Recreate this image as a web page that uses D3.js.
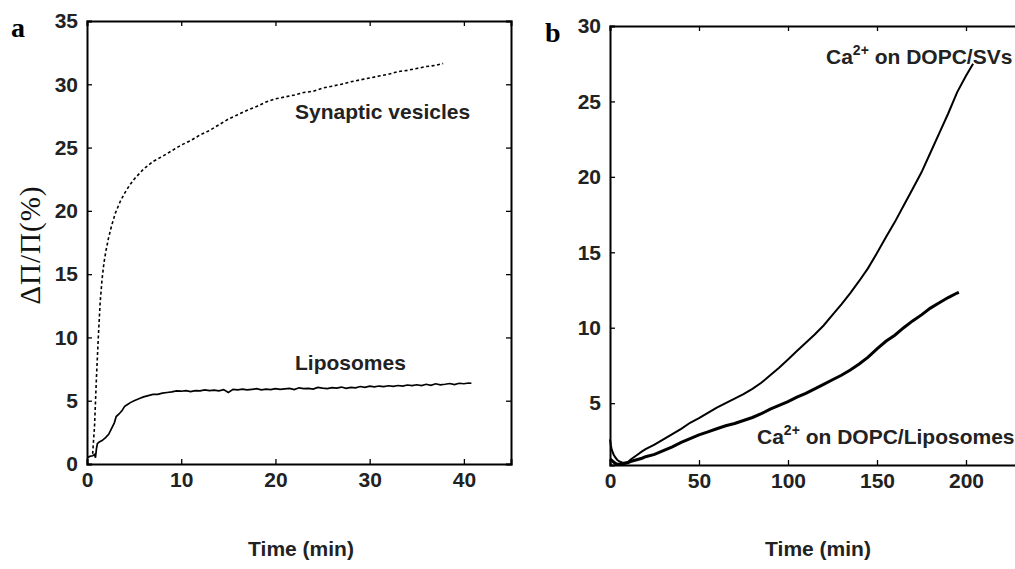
<!DOCTYPE html>
<html>
<head>
<meta charset="utf-8">
<script src="https://cdn.jsdelivr.net/npm/d3@7"></script>
<style>
  html, body { margin: 0; padding: 0; background: #fff; }
  svg { display: block; }
  .lbl { font-family: "Liberation Sans", Arial, sans-serif; font-weight: bold; font-size: 21px; fill: #222; }
  .panel { font-family: "Liberation Serif", "Times New Roman", serif; font-weight: bold; font-size: 28px; fill: #000; }
</style>
</head>
<body>
<script>
// ---- Panel a: surface pressure change vs time ----
const aTicksX = [0, 10, 20, 30, 40];
const aTicksY = [0, 5, 10, 15, 20, 25, 30, 35];

// Synaptic vesicles (dashed trace)
const svTime = [0.6, 0.8, 1.0, 1.2, 1.4, 1.6, 1.8, 2.0, 2.3, 2.6, 3.0, 3.5, 4.0, 4.5, 5.0, 5.5, 6.0, 6.5, 7, 8, 9, 10, 11, 12, 13, 14, 15, 16, 17, 18, 19, 20, 21, 22, 23, 24, 25, 26, 27, 28, 29, 30, 31, 32, 33, 34, 35, 36, 37, 37.8];
const svValue = [0.8, 3.0, 6.8, 10.0, 12.8, 14.6, 15.9, 16.8, 17.9, 18.8, 19.8, 20.7, 21.4, 22.0, 22.5, 22.9, 23.3, 23.6, 23.9, 24.3, 24.75, 25.2, 25.55, 26.0, 26.35, 26.8, 27.25, 27.6, 27.95, 28.25, 28.6, 28.85, 29.0, 29.15, 29.35, 29.45, 29.7, 29.85, 30.0, 30.2, 30.35, 30.5, 30.65, 30.8, 31.0, 31.1, 31.25, 31.4, 31.5, 31.65];

// Liposomes (solid trace)
const lipTime = [0, 0.3, 0.6, 0.8, 0.9, 1.0, 1.1, 1.3, 1.6, 2.0, 2.3, 2.6, 2.9, 3.1, 3.4, 3.7, 4.0, 4.3, 4.6, 5.0, 5.5, 6.0, 6.5, 7.0, 7.5, 8.0, 8.5, 9.0, 9.5,
  10, 10.5, 11, 11.5, 12, 12.5, 13, 13.5, 14, 14.5, 15, 15.5, 16, 16.5, 17, 17.5, 18, 18.5, 19, 19.5, 20, 20.5, 21, 21.5, 22, 22.5, 23, 23.5, 24, 24.5, 25,
  25.5, 26, 26.5, 27, 27.5, 28, 28.5, 29, 29.5, 30, 30.5, 31, 31.5, 32, 32.5, 33, 33.5, 34, 34.5, 35, 35.5, 36, 36.5, 37, 37.5, 38, 38.5, 39, 39.5, 40, 40.5, 40.8];
const lipValue = [0.5, 0.6, 0.65, 0.75, 0.5, 1.2, 1.6, 1.75, 1.85, 2.1, 2.35, 2.8, 3.25, 3.75, 3.95, 4.2, 4.55, 4.7, 4.85, 5.0, 5.15, 5.3, 5.4, 5.5, 5.5, 5.6, 5.65, 5.7, 5.78,
  5.75, 5.8, 5.72, 5.8, 5.78, 5.85, 5.8, 5.84, 5.78, 5.88, 5.65, 5.9, 5.86, 5.92, 5.85, 5.9, 5.95, 5.86, 5.92, 5.88, 5.96, 5.9, 5.94, 5.98, 5.88, 6.02, 5.95, 5.98, 5.92, 6.05, 6.0,
  5.96, 6.04, 6.0, 6.08, 5.98, 6.06, 6.02, 6.12, 6.05, 6.15, 6.1, 6.16, 6.12, 6.18, 6.14, 6.2, 6.16, 6.24, 6.2, 6.26, 6.2, 6.3, 6.22, 6.34, 6.26, 6.3, 6.36, 6.28, 6.38, 6.34, 6.4, 6.38];

// ---- Panel b: Ca2+ injection on DOPC monolayers ----
const bTicksX = [0, 50, 100, 150, 200];
const bTicksY = [5, 10, 15, 20, 25, 30];

const dsTime = [0, 0.5, 1, 2, 3, 4, 5, 6, 7, 8, 10, 12, 15, 18, 20, 25, 30, 35, 40, 45, 50, 55, 60, 65, 70, 75, 80, 85, 90, 95, 100, 105, 110, 115, 120, 125, 130, 135, 140, 145, 150, 155, 160, 165, 170, 175, 180, 185, 190, 195, 200, 204];
const dsValue = [2.6, 2.2, 1.9, 1.6, 1.4, 1.25, 1.15, 1.1, 1.05, 1.05, 1.1, 1.3, 1.55, 1.8, 1.95, 2.25, 2.6, 2.95, 3.3, 3.7, 4.0, 4.35, 4.7, 5.0, 5.3, 5.6, 5.95, 6.35, 6.85, 7.35, 7.9, 8.45, 9.0, 9.55, 10.15, 10.85, 11.55, 12.3, 13.1, 13.95, 14.95, 16.0, 17.0, 18.1, 19.2, 20.3, 21.6, 22.9, 24.2, 25.6, 26.7, 27.5];

const dlTime = [0, 1, 2, 3, 4, 5, 6, 8, 10, 12, 15, 18, 20, 25, 30, 35, 40, 45, 50, 55, 60, 65, 70, 75, 80, 85, 90, 95, 100, 105, 110, 115, 120, 125, 130, 135, 140, 145, 150, 155, 160, 165, 170, 175, 180, 185, 190, 195, 196];
const dlValue = [1.3, 1.2, 1.1, 1.0, 0.95, 0.95, 0.95, 1.0, 1.05, 1.15, 1.25, 1.35, 1.45, 1.6, 1.85, 2.1, 2.4, 2.65, 2.9, 3.1, 3.3, 3.5, 3.65, 3.85, 4.05, 4.3, 4.6, 4.85, 5.1, 5.4, 5.65, 5.95, 6.25, 6.55, 6.85, 7.2, 7.6, 8.05, 8.6, 9.1, 9.5, 10.0, 10.45, 10.85, 11.3, 11.65, 12.0, 12.3, 12.35];

const W = 1015, H = 569;
const svg = d3.select("body").append("svg").attr("width", W).attr("height", H);

function zip(ts, vs) { return ts.map((t, i) => [t, vs[i]]); }

// Boxed axes: labelled bottom/left, bare ticks on top/right, all ticks pointing inward
function framedAxes(g, x, y, xt, yt, frameRight) {
  const [x0, x1] = x.range();
  const [y0, y1] = y.range();
  g.append("g").attr("transform", `translate(0,${y0})`)
    .call(d3.axisBottom(x).tickValues(xt).tickSize(-5).tickPadding(8).tickFormat(d3.format("d")));
  g.append("g").attr("transform", `translate(0,${y1})`)
    .call(d3.axisTop(x).tickValues(xt).tickSize(-5).tickFormat(""));
  g.append("g").attr("transform", `translate(${x0},0)`)
    .call(d3.axisLeft(y).tickValues(yt).tickSize(-5).tickPadding(9).tickFormat(d3.format("d")));
  g.append("g").attr("transform", `translate(${frameRight},0)`)
    .call(d3.axisRight(y).tickValues(yt).tickSize(-5).tickFormat(""));
  g.selectAll(".domain").attr("stroke", "#000").attr("stroke-width", 2);
  g.selectAll(".tick line").attr("stroke", "#000").attr("stroke-width", 1.3);
  g.selectAll(".tick text")
    .attr("font-family", null).attr("font-size", null)
    .style("font-family", "'Liberation Sans', Arial, sans-serif")
    .style("font-weight", "bold").style("font-size", "21px").style("fill", "#222");
}

// ---------- panel a ----------
const xa = d3.scaleLinear().domain([0, 45]).range([87, 511]);
const ya = d3.scaleLinear().domain([0, 35]).range([464, 21]);
const ga = svg.append("g");
framedAxes(ga, xa, ya, aTicksX, aTicksY, 511);

const lineA = d3.line().x(d => xa(d[0])).y(d => ya(d[1]));
ga.append("path").datum(zip(svTime, svValue)).attr("d", lineA)
  .attr("fill", "none").attr("stroke", "#000").attr("stroke-width", 1.6).attr("stroke-dasharray", "3,2.5");
ga.append("path").datum(zip(lipTime, lipValue)).attr("d", lineA)
  .attr("fill", "none").attr("stroke", "#000").attr("stroke-width", 1.7);

ga.append("text").attr("class", "lbl").attr("x", 295).attr("y", 119).text("Synaptic vesicles");
ga.append("text").attr("class", "lbl").attr("x", 295).attr("y", 370).text("Liposomes");
ga.append("text").attr("class", "lbl").attr("x", 301).attr("y", 556).attr("text-anchor", "middle").text("Time (min)");
ga.append("text").attr("class", "panel").attr("x", 11).attr("y", 37).text("a");
ga.append("text")
  .attr("transform", "translate(40,245) rotate(-90)")
  .attr("text-anchor", "middle")
  .style("font-family", "'Liberation Serif', 'Times New Roman', serif")
  .style("font-size", "29px").style("letter-spacing", "1px").style("fill", "#111")
  .text("ΔΠ/Π(%)");

// ---------- panel b ----------
const xb = d3.scaleLinear().domain([0, 250]).range([610, 1055]);
const yb = d3.scaleLinear().domain([0.9, 30]).range([465, 26]);
const gb = svg.append("g");
framedAxes(gb, xb, yb, bTicksX, bTicksY, 1055);

const lineB = d3.line().x(d => xb(d[0])).y(d => yb(d[1]));
gb.append("path").datum(zip(dlTime, dlValue)).attr("d", lineB)
  .attr("fill", "none").attr("stroke", "#000").attr("stroke-width", 3);
gb.append("path").datum(zip(dsTime, dsValue)).attr("d", lineB)
  .attr("fill", "none").attr("stroke", "#000").attr("stroke-width", 2);

function caLabel(g, x, y, rest) {
  const t = g.append("text").attr("class", "lbl").attr("x", x).attr("y", y);
  t.append("tspan").text("Ca");
  t.append("tspan").attr("dy", -9).style("font-size", "14px").text("2+");
  t.append("tspan").attr("dy", 9).text(" " + rest);
}
caLabel(gb, 826, 64, "on DOPC/SVs");
caLabel(gb, 757, 444, "on DOPC/Liposomes");
gb.append("text").attr("class", "lbl").attr("x", 818).attr("y", 556).attr("text-anchor", "middle").text("Time (min)");
gb.append("text").attr("class", "panel").attr("x", 545).attr("y", 42).text("b");
</script>
</body>
</html>
